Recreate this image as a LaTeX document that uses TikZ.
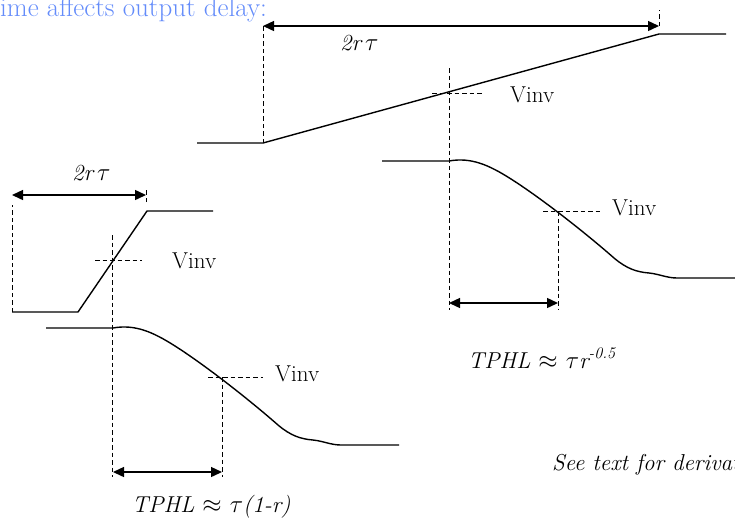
\documentclass[tikz,border=0pt]{standalone}
\usetikzlibrary{arrows.meta}
\definecolor{titleblue}{RGB}{100,140,250}
\tikzset{
    wave/.style={line width=1.4pt, line join=round},
    guide/.style={line width=1pt, dash pattern=on 4.5pt off 3pt},
    span/.style={line width=1.4pt, {Triangle[length=11pt,width=10pt]}-{Triangle[length=11pt,width=10pt]}},
    lbl/.style={font=\fontsize{23}{27}\selectfont, inner sep=0pt, anchor=base west},
}
\newcommand{\outwave}[2]{%
\draw[wave, shift={(#2)}] (-67,0) coordinate (#1hi) -- (0,0)
    .. controls (22,-4) and (40,4) .. (62,18)
    .. controls (95,39) and (140,75) .. (165,97)
    .. controls (178,108) and (188,111) .. (200,112)
    .. controls (210,113) and (218,117) .. (228,117)
    -- (286,117) coordinate (#1lo);}
\begin{document}
\begin{tikzpicture}[x=1pt, y=-1pt]
\useasboundingbox (0,0) rectangle (735,523);
\node[lbl, font=\fontsize{27}{31}\selectfont, text=titleblue] (title) at (0,16) {ime affects output delay:};
% slow input ramp
\coordinate (inA0) at (197,143);
\coordinate (inA1) at (263,143);
\coordinate (inA2) at (659,34);
\coordinate (inA3) at (726,34);
\draw[wave] (inA0) -- (inA1) -- (inA2) -- (inA3);
\coordinate (spanAL) at (263,26);
\coordinate (spanAR) at (659,26);
\draw[guide] (inA1) -- (spanAL);
\draw[guide] (spanAR) -- ++(0,-16);
\draw[span] (spanAL) -- (spanAR);
\node[lbl] (riseA) at (340,50) {\itshape 2r\,$\tau$};
\coordinate (vinA) at (449,93);
\draw[guide] (449,68) -- (449,310);
\draw[guide] (432,93) -- (482,93);
\node[lbl] (vinvA) at (510,102) {Vinv};
\outwave{outA}{449,161}
\coordinate (crossA) at (558,211);
\draw[guide] (543,211) -- (600,211);
\draw[guide] (crossA) -- (558,310);
\node[lbl] (vinvAo) at (612,215) {Vinv};
\coordinate (tpA1) at (449,303);
\coordinate (tpA2) at (558,303);
\draw[span] (tpA1) -- (tpA2);
\node[lbl] (tphlA) at (468,368) {\itshape TPHL $\approx$ $\tau$r\textsuperscript{-0.5}};
% fast input ramp
\coordinate (inB0) at (12,312);
\coordinate (inB1) at (78,312);
\coordinate (inB2) at (147,211);
\coordinate (inB3) at (213,211);
\draw[wave] (inB0) -- (inB1) -- (inB2) -- (inB3);
\coordinate (spanBL) at (12,195);
\coordinate (spanBR) at (146,195);
\draw[guide] (inB0) -- (12,205);
\draw[guide] (146,202) -- (146,190);
\draw[span] (spanBL) -- (spanBR);
\node[lbl] (riseB) at (72,180) {\itshape 2r\,$\tau$};
\draw[guide] (112,235) -- (112,477);
\draw[guide] (95,260) -- (142,260);
\node[lbl] (vinvB) at (172,268) {Vinv};
\outwave{outB}{113,328}
\coordinate (crossB) at (222,377);
\draw[guide] (208,377) -- (263,377);
\draw[guide] (crossB) -- (222,477);
\node[lbl] (vinvBo) at (275,381) {Vinv};
\coordinate (tpB1) at (113,472);
\coordinate (tpB2) at (222,472);
\draw[span] (tpB1) -- (tpB2);
\node[lbl] (tphlB) at (132,512) {\itshape TPHL $\approx$ $\tau$(1-r)};
\node[lbl] (note) at (552,470) {\itshape See text for derivat};
\end{tikzpicture}
\end{document}
